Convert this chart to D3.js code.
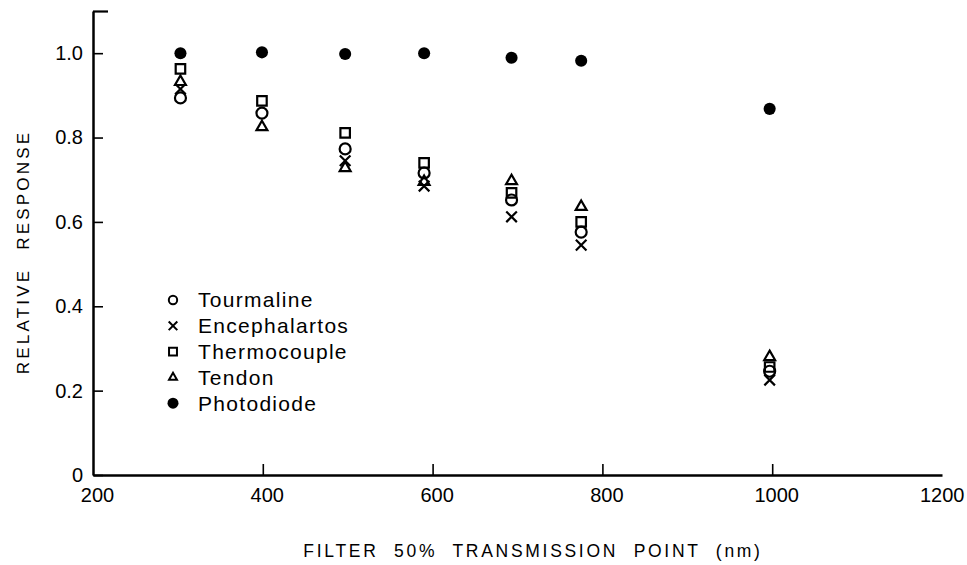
<!DOCTYPE html>
<html>
<head>
<meta charset="utf-8">
<script src="https://cdn.jsdelivr.net/npm/d3@7"></script>
<style>
  body { margin: 0; background: #fff; }
  svg { font-family: "Liberation Sans", Arial, sans-serif; }
</style>
</head>
<body>
<svg id="chart"></svg>
<script>
// filter 50% transmission points (nm)
const wavelengths = [303, 399, 497, 590, 693, 775, 997];

// relative response per detector (null = not plotted)
const tourmaline    = [0.894, 0.858, 0.773, 0.716, 0.652, 0.576, 0.246];
const encephalartos = [0.915, null,  0.745, 0.685, 0.612, 0.545, 0.225];
const thermocouple  = [0.963, 0.887, 0.811, 0.740, 0.669, 0.600, 0.256];
const tendon        = [0.932, 0.825, 0.728, 0.695, 0.697, 0.636, 0.280];
const photodiode    = [1.000, 1.002, 0.998, 1.000, 0.989, 0.982, 0.868];

const xTicks = [200, 400, 600, 800, 1000, 1200];
const yTicks = [0, 0.2, 0.4, 0.6, 0.8, 1.0, 1.1];

const series = [
  { name: "Tourmaline", values: tourmaline, type: d3.symbolCircle, size: 95, legendSize: 55, fill: false },
  { name: "Encephalartos", values: encephalartos, type: d3.symbolTimes, size: 75, legendSize: 50, fill: false },
  { name: "Thermocouple", values: thermocouple, type: d3.symbolSquare2, size: 115, legendSize: 80, fill: false },
  { name: "Tendon", values: tendon, type: d3.symbolTriangle2, size: 85, legendSize: 45, fill: false },
  { name: "Photodiode", values: photodiode, type: d3.symbolCircle, size: 115, legendSize: 95, fill: true }
];

const width = 967;
const height = 565;

const svg = d3.select("#chart")
  .attr("width", width)
  .attr("height", height);

// scales
const x = d3.scaleLinear().domain([200, 1200]).range([93, 942]);
const y = d3.scaleLinear().domain([0, 1.1]).range([475, 11]);

// y axis, ticks point inward
const yAxis = svg.append("g")
  .attr("transform", `translate(${x(200)},0)`)
  .call(d3.axisLeft(y)
    .tickValues(yTicks)
    .tickSize(-10)
    .tickSizeOuter(0)
    .tickPadding(10)
    .tickFormat(d => d === 1.1 ? "" : (d === 0 ? "0" : d.toFixed(1))));

yAxis.select(".domain").attr("stroke", "#000").attr("stroke-width", 2.5);
yAxis.selectAll(".tick line").attr("stroke", "#000").attr("stroke-width", 1.6);
yAxis.selectAll(".tick").filter(d => d === 1.1).select("line").attr("x2", 15).attr("stroke-width", 2.2);
yAxis.selectAll(".tick text")
  .attr("font-size", 20)
  .attr("fill", "#000");

// x axis, ticks point up
const xAxis = svg.append("g")
  .attr("transform", `translate(0,${y(0)})`)
  .call(d3.axisBottom(x)
    .tickValues(xTicks)
    .tickSize(-11)
    .tickSizeOuter(0)
    .tickPadding(13)
    .tickFormat(d3.format("d")));

xAxis.select(".domain").attr("stroke", "#000").attr("stroke-width", 2.5);
xAxis.selectAll(".tick line").attr("stroke", "#000").attr("stroke-width", 1.6);
xAxis.selectAll(".tick").filter(d => d === 200 || d === 1200).select("line").remove();
xAxis.selectAll(".tick text")
  .attr("font-size", 20)
  .attr("fill", "#000")
  .attr("dx", d => d === 1200 ? 0 : 4);
xAxis.selectAll(".tick").filter(d => d === 1200).select("text")
  .attr("text-anchor", "end")
  .attr("dx", 22);

// axis titles
svg.append("text")
  .attr("transform", `translate(25,${252}) rotate(-90)`)
  .attr("text-anchor", "middle")
  .attr("dominant-baseline", "middle")
  .attr("font-size", 17)
  .attr("letter-spacing", 3.2)
  .attr("word-spacing", 10)
  .text("RELATIVE RESPONSE");

svg.append("text")
  .attr("x", 533)
  .attr("y", 557)
  .attr("text-anchor", "middle")
  .attr("font-size", 17.5)
  .attr("letter-spacing", 2.7)
  .attr("word-spacing", 8)
  .text("FILTER 50% TRANSMISSION POINT (nm)");

// points
series.forEach(s => {
  const sym = d3.symbol().type(s.type).size(s.size);
  svg.append("g")
    .selectAll("path")
    .data(wavelengths.map((w, i) => ({ w, v: s.values[i] })).filter(d => d.v !== null))
    .join("path")
    .attr("transform", d => `translate(${x(d.w)},${y(d.v)})`)
    .attr("d", sym)
    .attr("fill", s.fill ? "#000" : "none")
    .attr("stroke", "#000")
    .attr("stroke-width", s.fill ? 0 : 2.2);
});

// legend
const legend = svg.append("g").attr("transform", "translate(173,300)");
series.forEach((s, i) => {
  const row = legend.append("g").attr("transform", `translate(0,${i * 25.8})`);
  row.append("path")
    .attr("d", d3.symbol().type(s.type).size(s.legendSize))
    .attr("fill", s.fill ? "#000" : "none")
    .attr("stroke", "#000")
    .attr("stroke-width", s.fill ? 0 : 2);
  row.append("text")
    .attr("x", 25)
    .attr("dy", "0.35em")
    .attr("font-size", 21)
    .attr("letter-spacing", 1.3)
    .text(s.name);
});
</script>
</body>
</html>
